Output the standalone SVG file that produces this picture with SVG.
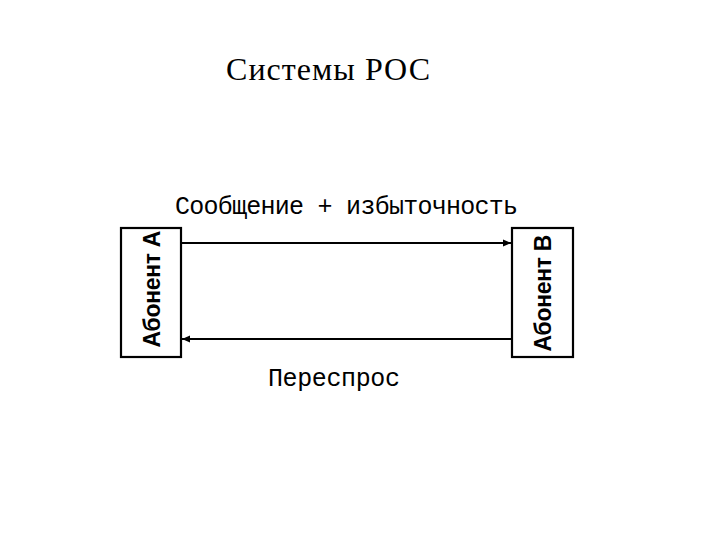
<svg xmlns="http://www.w3.org/2000/svg" width="720" height="540" viewBox="0 0 720 540">
<style>
.box{fill:#fff;stroke:#000;stroke-width:2.2}
.ln{stroke:#000;stroke-width:2.2;fill:none}
.mono{font-family:"Liberation Mono","DejaVu Sans Mono",monospace;font-size:25px;fill:#000}
.lab{font-family:"Liberation Sans","DejaVu Sans",sans-serif;font-weight:bold;font-size:23px;fill:#000}
.title{font-family:"Liberation Serif","DejaVu Serif",serif;font-size:32px;fill:#000}
</style>
<defs>
<marker id="ah" markerWidth="9" markerHeight="9" refX="8" refY="4.5" orient="auto" markerUnits="userSpaceOnUse">
<path d="M0,1 L8,4.5 L0,8 Z" fill="#000"/>
</marker>
</defs>
<rect width="720" height="540" fill="#fff"/>
<text class="title" x="328" y="80" text-anchor="middle" textLength="204">Системы РОС</text>
<g id="nodeA">
<rect class="box" x="121" y="228" width="60" height="129"/>
<text class="lab" transform="translate(160,289) rotate(-90)" text-anchor="middle" textLength="117">Абонент А</text>
</g>
<g id="nodeB">
<rect class="box" x="512" y="228" width="61" height="129"/>
<text class="lab" transform="translate(551,293) rotate(-90)" text-anchor="middle" textLength="117">Абонент В</text>
</g>
<g id="connectors">
<line class="ln" x1="182" y1="243" x2="511" y2="243" marker-end="url(#ah)"/>
<line class="ln" x1="511" y1="339" x2="182" y2="339" marker-end="url(#ah)"/>
<text class="mono" x="175" y="214" textLength="343">Сообщение + избыточность</text>
<text class="mono" x="268" y="386" textLength="132">Переспрос</text>
</g>
</svg>
